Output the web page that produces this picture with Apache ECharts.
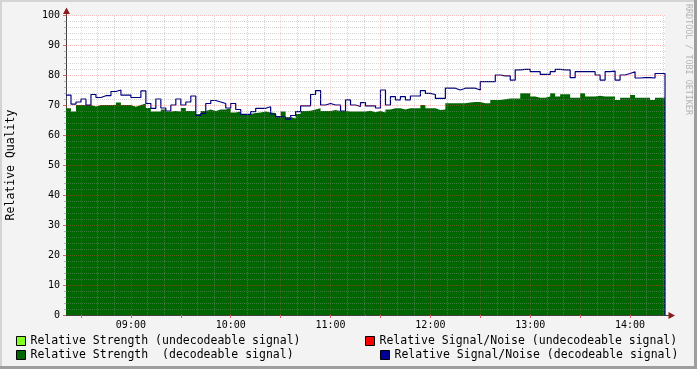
<!DOCTYPE html>
<html><head><meta charset="utf-8">
<script src="https://cdn.jsdelivr.net/npm/echarts@6/dist/echarts.min.js"></script>
<style>html,body{margin:0;padding:0;background:#f3f3f3}#c{width:697px;height:369px}</style>
</head><body><div id="c"></div>
<script>
// time sampling (minutes since midnight): 08:21 .. 14:21 every 3 minutes
const startMinute = 501;
const stepMinutes = 3;
const hourLabels = [540, 600, 660, 720, 780, 840];

// Relative Strength (decodeable signal)
const strengthDecodeable = [
 68.9,67.8,70,70,70,69.5,70,70,70,70,
 70.8,70,70,69.4,70,70.5,69,67.8,67.8,68.5,
 67.8,68,67.8,69,68,68,67,68,68.5,68,
 68.5,68.5,68.9,67.5,67.8,67,67,67.3,67.5,67.8,
 67.5,67.3,66.1,67.8,66,65.5,67,68,68.1,68.5,
 68.9,68,68,68.3,68,68,67.8,67.8,67.8,67.8,
 68.1,67.6,68,67.5,68.5,68.9,68.9,68.5,68.9,68.9,
 68.9,70,68.9,68.9,68.3,68.5,70.6,70.6,70.6,70.6,
 70.8,71,71,70.6,70.6,71.7,71.7,71.9,72.2,72.2,
 72.2,73.9,73.9,72.8,72.4,72.4,72.8,73.9,72.8,73.6,
 73.6,72.4,72.4,73.9,72.8,72.8,73.1,72.8,72.8,72.8,
 71.7,72.4,72.4,73.3,72.4,72.4,72.4,71.7,72.4,72.4,
 0
];
// Relative Signal/Noise (decodeable signal)
const snrDecodeable = [
 73.3,70.3,71,72,70,73.5,72.5,73.1,73.1,74.5,
 75,73.3,73.3,72.5,72.5,74.7,70.5,68.9,72,69,
 68,70,72,70,71,73,66.5,67.2,70.5,71.5,
 71,70.5,69,70.5,68.5,66.9,66.9,67.8,68.9,68.9,
 69.4,67,66.1,66,65.3,66.5,67.8,69.7,69.7,73.5,
 74.8,70,70.5,70,70,68,71.7,70,69.5,70.8,
 69.7,69.7,69,75,70,72.8,71.7,72.8,71.7,73,
 73,74.8,73.9,73.5,72.2,72.2,75.6,75.6,75,75.6,
 75.6,75.6,75,77.8,77.8,77.8,80,79.7,79.7,78.3,
 81.7,81.9,81.9,81.1,81.1,80.2,80.2,81.1,81.9,81.7,
 81.7,79.1,81.1,81.1,81.1,81.1,80,78.3,81.1,81.3,
 78.3,80,80.5,81.1,79,79.1,79.1,79,80.5,80.5,
 0
];
// undecodeable signal: no values in this period
const strengthUndecodeable = [];
const snrUndecodeable = [];

const times = snrDecodeable.map((_, i) => startMinute + i * stepMinutes);
const endMinute = times[times.length - 1];

const names = {
  su: 'Relative Strength (undecodeable signal)',
  sd: 'Relative Strength  (decodeable signal)',
  nu: 'Relative Signal/Noise (undecodeable signal)',
  nd: 'Relative Signal/Noise (decodeable signal)'
};

const mono = 'DejaVu Sans Mono';
const minorGridColor = 'rgba(150,150,150,0.4)';
const majorGridColorH = 'rgba(255,70,70,0.35)';
const majorGridColorV = 'rgba(255,80,80,0.26)';

// grid lines (drawn above the area like rrdtool)
const gridLines = [];
for (let m = 510; m < endMinute; m += 10) {
  const major = (m % 30 === 0);
  gridLines.push({xAxis: m, lineStyle: {color: major ? majorGridColorV : minorGridColor, type: [1, 1], width: 1}});
}
for (let v = 2; v <= 100; v += 2) {
  const major = (v % 10 === 0);
  gridLines.push({yAxis: v, lineStyle: {color: major ? majorGridColorH : minorGridColor, type: [1, 1], width: 1}});
}

function hhmm(v) {
  const h = Math.floor(v / 60), m = Math.round(v % 60);
  return String(h).padStart(2, '0') + ':' + String(m).padStart(2, '0');
}

const legendBase = {
  orient: 'horizontal', padding: 0, itemWidth: 9, itemHeight: 9, icon: 'rect',
  selectedMode: false,
  itemStyle: {borderColor: '#000', borderWidth: 1},
  textStyle: {fontFamily: mono, fontSize: 11.5, color: '#000'}
};

const chart = echarts.init(document.getElementById('c'), null, {renderer: 'canvas'});
chart.setOption({
  animation: false,
  backgroundColor: '#f3f3f3',
  grid: {left: 66, top: 15, width: 599, height: 300, show: true, backgroundColor: '#ffffff', borderWidth: 0,
         containLabel: false, outerBoundsMode: 'none'},
  legend: [
    Object.assign({left: 16, top: 335, data: [names.su]}, legendBase),
    Object.assign({left: 16, top: 349, data: [names.sd]}, legendBase),
    Object.assign({left: 365, top: 335, data: [names.nu]}, legendBase),
    Object.assign({left: 380, top: 349, data: [names.nd]}, legendBase)
  ],
  xAxis: {
    type: 'value', min: startMinute, max: endMinute,
    axisLine: {show: true, lineStyle: {color: '#404040', width: 1}},
    axisTick: {show: true, customValues: [510,540,570,600,630,660,690,720,750,780,810,840], length: 3, lineStyle: {color: '#e06060'}},
    axisLabel: {customValues: hourLabels, formatter: hhmm, fontFamily: mono, fontSize: 10, color: '#000', margin: 5},
    splitLine: {show: false}
  },
  yAxis: {
    type: 'value', min: 0, max: 100, interval: 10,
    name: 'Relative Quality', nameLocation: 'middle', nameGap: 49, nameRotate: 90,
    nameTextStyle: {fontFamily: mono, fontSize: 11.5, color: '#000'},
    axisLine: {show: true, lineStyle: {color: '#404040', width: 1}},
    axisTick: {show: true, length: 3, lineStyle: {color: '#e06060'}},
    minorTick: {show: true, splitNumber: 5, length: 2, lineStyle: {color: '#b0b0b0'}},
    axisLabel: {fontFamily: mono, fontSize: 10, color: '#000', margin: 6},
    splitLine: {show: false}
  },
  series: [
    {
      name: names.sd, type: 'line', step: 'end', showSymbol: false, z: 2,
      data: times.map((t, i) => [t, strengthDecodeable[i]]),
      itemStyle: {color: '#006600'}, lineStyle: {width: 0, color: '#006600'},
      areaStyle: {color: '#006600', opacity: 1}
    },
    {
      name: names.su, type: 'line', step: 'end', showSymbol: false, z: 2,
      data: strengthUndecodeable,
      itemStyle: {color: '#80ff20'}, lineStyle: {width: 0}, areaStyle: {color: '#80ff20', opacity: 1}
    },
    {
      name: 'grid', type: 'line', data: [], z: 3, silent: true,
      markLine: {silent: true, symbol: ['none', 'none'], label: {show: false}, animation: false, data: gridLines}
    },
    {
      name: names.nu, type: 'line', step: 'end', showSymbol: false, z: 4,
      data: snrUndecodeable,
      itemStyle: {color: '#ff0000'}, lineStyle: {width: 1, color: '#ff0000'}
    },
    {
      name: names.nd, type: 'line', step: 'end', showSymbol: false, z: 4,
      data: times.map((t, i) => [t, snrDecodeable[i]]),
      itemStyle: {color: '#000099'}, lineStyle: {width: 1.2, color: '#00007f'}
    }
  ],
  graphic: [
    {type: 'rect', left: 0, top: 0, shape: {width: 697, height: 2}, style: {fill: '#d4d4d4'}, silent: true},
    {type: 'rect', left: 0, top: 0, shape: {width: 2, height: 369}, style: {fill: '#d4d4d4'}, silent: true},
    {type: 'rect', left: 0, top: 366, shape: {width: 697, height: 3}, style: {fill: '#9e9e9e'}, silent: true},
    {type: 'rect', left: 694, top: 0, shape: {width: 3, height: 369}, style: {fill: '#9e9e9e'}, silent: true},
    {type: 'line', shape: {x1: 66.5, y1: 15, x2: 66.5, y2: 10}, style: {stroke: '#404040', lineWidth: 1}, silent: true},
    {type: 'polygon', shape: {points: [[66.5, 7.5], [63, 14], [70, 14]]}, style: {fill: '#8b1a1a'}, silent: true},
    {type: 'line', shape: {x1: 665, y1: 315.5, x2: 670, y2: 315.5}, style: {stroke: '#404040', lineWidth: 1}, silent: true},
    {type: 'polygon', shape: {points: [[675, 315.5], [668.5, 312], [668.5, 319]]}, style: {fill: '#8b1a1a'}, silent: true},
    {type: 'text', x: 688, y: 4, rotation: -Math.PI / 2, silent: true,
     style: {text: 'RRDTOOL / TOBI OETIKER', fill: '#b4b4b4', font: '8.4px "DejaVu Sans Mono"', textAlign: 'left', textVerticalAlign: 'middle'}}
  ]
});
</script></body></html>
